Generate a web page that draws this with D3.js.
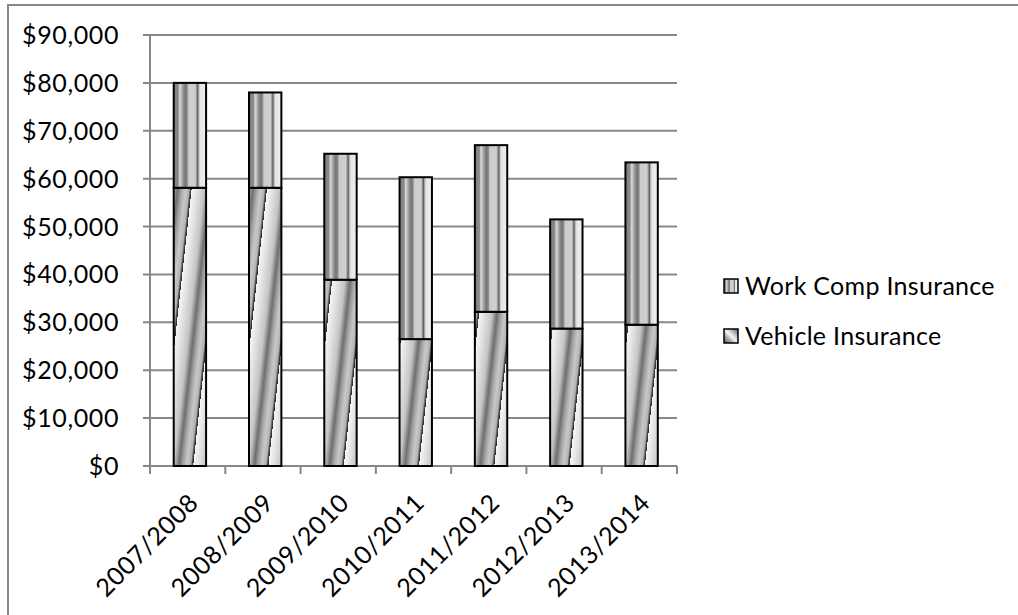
<!DOCTYPE html>
<html>
<head>
<meta charset="utf-8">
<script src="https://cdn.jsdelivr.net/npm/d3@7"></script>
<style>
  html, body { margin: 0; padding: 0; background: #fff; }
  svg { display: block; }
  text { font-family: Lato, "Open Sans", sans-serif; fill: #000; letter-spacing: 0.6px; }
  .legend text { letter-spacing: 0.3px; }
</style>
</head>
<body>
<svg id="chart" width="1018" height="615"></svg>
<script>
// Insurance costs by fiscal year
const categories = ["2007/2008", "2008/2009", "2009/2010", "2010/2011", "2011/2012", "2012/2013", "2013/2014"];
const vehicleInsurance = [58100, 58100, 38900, 26500, 32200, 28700, 29500];
const workCompInsurance = [21900, 19900, 26300, 33800, 34800, 22800, 33900];
const yTicks = [0, 10000, 20000, 30000, 40000, 50000, 60000, 70000, 80000, 90000];
const seriesNames = ["Work Comp Insurance", "Vehicle Insurance"];

const svg = d3.select("#chart");
const plot = { left: 150, right: 677, top: 35, bottom: 466 };

// chart frame
svg.append("rect")
  .attr("x", 8).attr("y", 5)
  .attr("width", 1100).attr("height", 700)
  .attr("fill", "#fff").attr("stroke", "#878787").attr("stroke-width", 2);

const x = d3.scaleBand().domain(categories).range([plot.left, plot.right]).padding(0);
const y = d3.scaleLinear().domain([0, 90000]).range([plot.bottom, plot.top]);

const defs = svg.append("defs");

// vertical stripe shading for work comp segments
const wc = defs.append("linearGradient").attr("id", "wcFill")
  .attr("x1", 0).attr("y1", 0).attr("x2", 1).attr("y2", 0);
[
  [0.00, "#7e7e7e"], [0.14, "#8a8a8a"], [0.18, "#d2d2d2"], [0.22, "#c8c8c8"],
  [0.28, "#9a9a9a"], [0.36, "#747474"], [0.42, "#8c8c8c"], [0.46, "#cccccc"],
  [0.66, "#d0d0d0"], [0.70, "#a0a0a0"], [0.74, "#5c5c5c"], [0.78, "#bcbcbc"],
  [0.82, "#e6e6e6"], [1.00, "#f0f0f0"]
].forEach(([o, c]) => wc.append("stop").attr("offset", o).attr("stop-color", c));

// diagonal repeating shading for vehicle segments, anchored to each bar's base
const vStops = [
  [0.00, "#f6f6f6"], [0.20, "#dedede"], [0.40, "#c4c4c4"], [0.56, "#6e6e6e"],
  [0.68, "#a4a4a4"], [0.80, "#c8c8c8"], [0.92, "#b2b2b2"], [0.97, "#444444"], [1.00, "#2a2a2a"]
];
const lineDir = { dx: 12, dy: -109 };
const nLen = Math.hypot(lineDir.dx, lineDir.dy);
const normal = { x: -lineDir.dy / nLen, y: lineDir.dx / nLen };
const period = 32 * normal.x;

const bw = x.bandwidth();
const barW = bw * 0.43;
const barX = c => x(c) + bw * 0.315;

categories.forEach((c, i) => {
  const x0 = barX(c) + barW * 0.6, y0 = y(0);
  const g = defs.append("linearGradient").attr("id", "vFill" + i)
    .attr("gradientUnits", "userSpaceOnUse").attr("spreadMethod", "repeat")
    .attr("x1", x0).attr("y1", y0)
    .attr("x2", x0 + period * normal.x).attr("y2", y0 + period * normal.y);
  vStops.forEach(([o, col]) => g.append("stop").attr("offset", o).attr("stop-color", col));
});

// legend swatch version of the vehicle shading
const lv = defs.append("linearGradient").attr("id", "vLegend")
  .attr("x1", 0).attr("y1", 1).attr("x2", 1).attr("y2", 0);
[[0, "#555555"], [0.3, "#a8a8a8"], [0.5, "#f4f4f4"], [0.65, "#cfcfcf"], [0.85, "#8a8a8a"], [1, "#6a6a6a"]]
  .forEach(([o, c]) => lv.append("stop").attr("offset", o).attr("stop-color", c));

// horizontal gridlines with outside ticks
svg.append("g").selectAll("line").data(yTicks).join("line")
  .attr("x1", plot.left - 7).attr("x2", plot.right)
  .attr("y1", d => y(d)).attr("y2", d => y(d))
  .attr("stroke", "#878787").attr("stroke-width", 2);

// y axis line
svg.append("line")
  .attr("x1", plot.left).attr("x2", plot.left)
  .attr("y1", plot.top).attr("y2", plot.bottom + 8)
  .attr("stroke", "#878787").attr("stroke-width", 2);

// x-axis category ticks
const xEdges = categories.map(c => x(c)).concat([plot.right]);
svg.append("g").selectAll("line").data(xEdges.slice(1)).join("line")
  .attr("x1", d => d).attr("x2", d => d)
  .attr("y1", plot.bottom).attr("y2", plot.bottom + 8)
  .attr("stroke", "#878787").attr("stroke-width", 2);

// y tick labels
const fmt = d => "$" + d3.format(",")(d);
svg.append("g").selectAll("text").data(yTicks).join("text")
  .attr("x", 119).attr("y", d => y(d)).attr("dy", "0.36em")
  .attr("text-anchor", "end").attr("font-size", 25)
  .text(fmt);

// stacked bars
const bars = svg.append("g");
categories.forEach((c, i) => {
  const v = vehicleInsurance[i], w = workCompInsurance[i];
  bars.append("rect")
    .attr("x", barX(c)).attr("width", barW)
    .attr("y", y(v)).attr("height", y(0) - y(v))
    .attr("fill", `url(#vFill${i})`).attr("stroke", "#000").attr("stroke-width", 2);
  bars.append("rect")
    .attr("x", barX(c)).attr("width", barW)
    .attr("y", y(v + w)).attr("height", y(v) - y(v + w))
    .attr("fill", "url(#wcFill)").attr("stroke", "#000").attr("stroke-width", 2);
});

// rotated category labels
svg.append("g").selectAll("text").data(categories).join("text")
  .attr("transform", c => `translate(${x(c) + bw / 2 + 6},${plot.bottom + 32}) rotate(-45)`)
  .attr("text-anchor", "end").attr("dy", "0.36em").attr("font-size", 25)
  .text(c => c);

// legend
const legend = svg.append("g").attr("class", "legend");
const legendFills = ["url(#wcFill)", "url(#vLegend)"];
seriesNames.forEach((name, i) => {
  const cy = 286 + i * 50;
  legend.append("rect")
    .attr("x", 724).attr("y", cy - 7).attr("width", 14).attr("height", 14)
    .attr("fill", legendFills[i]).attr("stroke", "#000").attr("stroke-width", 1.5);
  legend.append("text")
    .attr("x", 745).attr("y", cy).attr("dy", "0.36em")
    .attr("font-size", 25).text(name);
});
</script>
</body>
</html>
